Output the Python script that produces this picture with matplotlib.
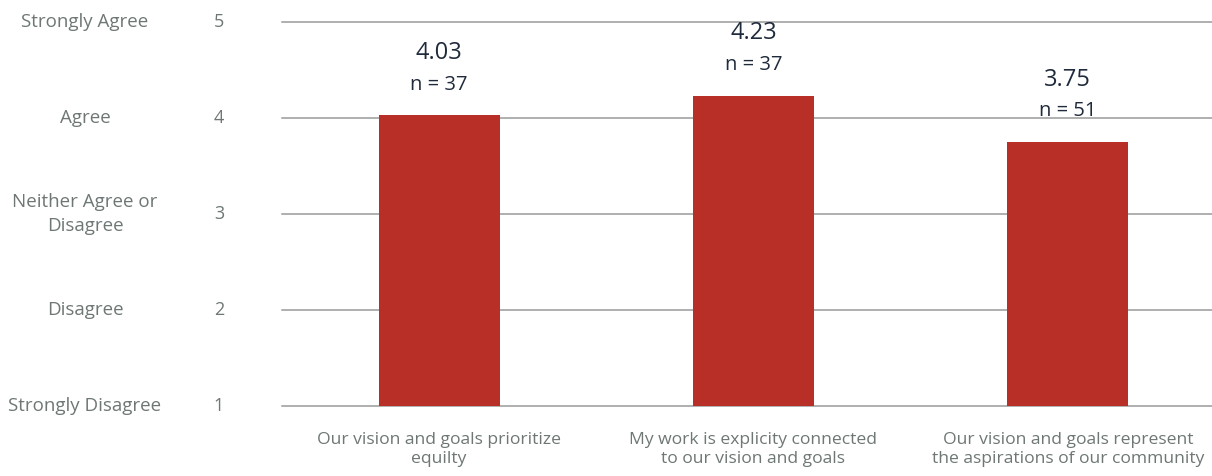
import matplotlib.pyplot as plt
import numpy as np

# survey statements and mean scores (1-5 scale)
statements = ["Our vision and goals prioritize\nequilty",
              "My work is explicity connected\nto our vision and goals",
              "Our vision and goals represent\nthe aspirations of our community"]
means = [4.03, 4.23, 3.75]
counts = [37, 37, 51]

scale_vals = [1, 2, 3, 4, 5]
scale_names = ["Strongly Disagree", "Disagree", "Neither Agree or\nDisagree",
               "Agree", "Strongly Agree"]

plt.rcParams['font.family'] = ['Open Sans', 'DejaVu Sans']
grey = '#6e7776'
bar_red = '#b82f27'
navy = '#1f2a3a'

fig = plt.figure(figsize=(12.12, 4.76), dpi=100)
ax = fig.add_axes([282/1212, 70/476, 930/1212, 384/476])

x = np.arange(len(statements))
base = 1
ax.bar(x, np.array(means) - base, bottom=base, width=0.385, color=bar_red, zorder=3)

ax.set_xlim(-0.5, 2.5 - 13/314.5)
ax.set_ylim(1, 5)
for v in scale_vals:
    ax.axhline(v, color='#9a9a9a', lw=1.1, zorder=1, clip_on=False)

for s in ax.spines.values():
    s.set_visible(False)
ax.set_yticks([])
ax.set_xticks(x)
ax.set_xticklabels(statements, fontsize=12.6, color=grey, linespacing=1.2)
ax.tick_params(axis='x', length=0, pad=19)

# scale numbers and their meanings on the left
for v, name in zip(scale_vals, scale_names):
    ax.annotate(str(v), xy=(219/1212, v), xycoords=('figure fraction', 'data'),
                ha='center', va='center', fontsize=13, color=grey)
    ax.annotate(name, xy=(85/1212, v), xycoords=('figure fraction', 'data'),
                ha='center', va='center', fontsize=13.5, color=grey,
                linespacing=1.45)

for xi, m, n in zip(x, means, counts):
    ax.annotate(f"n = {n}", xy=(xi, m), xytext=(0, 22), textcoords='offset points',
                ha='center', va='center', fontsize=14.5, color=navy)
    ax.annotate(f"{m:.2f}", xy=(xi, m), xytext=(0, 45), textcoords='offset points',
                ha='center', va='center', fontsize=17, color=navy)

fig.savefig('out.png', dpi=100)
